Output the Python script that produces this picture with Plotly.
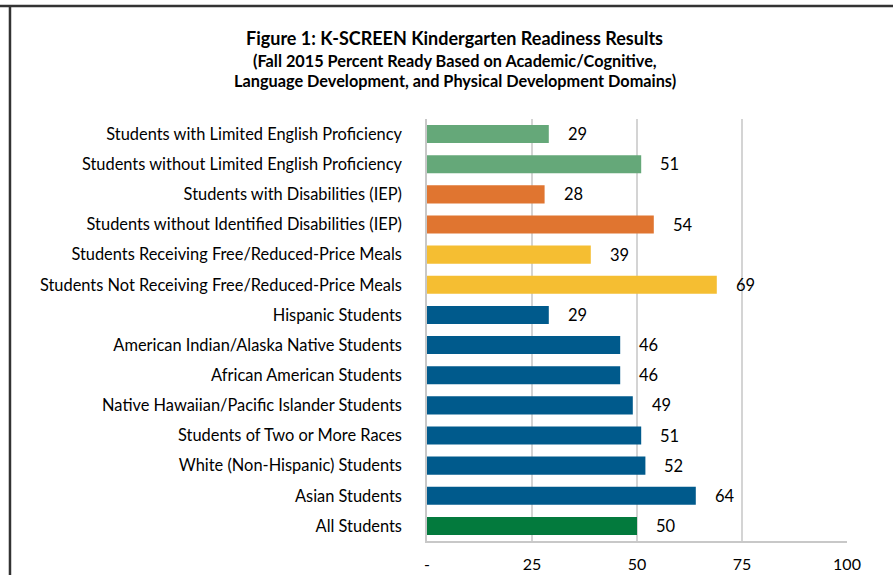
import plotly.graph_objects as go

categories = [
    "Students with Limited English Proficiency",
    "Students without Limited English Proficiency",
    "Students with Disabilities (IEP)",
    "Students without Identified Disabilities (IEP)",
    "Students Receiving Free/Reduced-Price Meals",
    "Students Not Receiving Free/Reduced-Price Meals",
    "Hispanic Students",
    "American Indian/Alaska Native Students",
    "African American Students",
    "Native Hawaiian/Pacific Islander Students",
    "Students of Two or More Races",
    "White (Non-Hispanic) Students",
    "Asian Students",
    "All Students",
]
values = [29, 51, 28, 54, 39, 69, 29, 46, 46, 49, 51, 52, 64, 50]
bar_colors = ["#65A879", "#65A879", "#E07530", "#E07530", "#F5BE32", "#F5BE32",
              "#005A8C", "#005A8C", "#005A8C", "#005A8C", "#005A8C", "#005A8C", "#005A8C",
              "#037A3D"]
tick_vals = [0, 25, 50, 75, 100]
tick_text = ["-", "25", "50", "75", "100"]
title_lines = [
    "Figure 1: K-SCREEN Kindergarten Readiness Results",
    "(Fall 2015 Percent Ready Based on Academic/Cognitive,",
    "Language Development, and Physical Development Domains)",
]

FONT = "Lato"

fig = go.Figure()
fig.add_trace(go.Bar(
    y=categories, x=values, orientation="h",
    marker=dict(color=bar_colors, line=dict(width=0)),
    width=0.6, hoverinfo="x+y",
))

for c, v in zip(categories, values):
    fig.add_annotation(x=v, y=c, text=str(v), showarrow=False, xanchor="left",
                       xshift=17, yshift=0, font=dict(family=FONT, size=16.5, color="#000"))

title_y = [1.1919, 1.1398, 1.0924]
title_sizes = [18, 16.3, 16.3]
for t, yy, sz in zip(title_lines, title_y, title_sizes):
    fig.add_annotation(xref="paper", yref="paper", x=0.066, y=yy, text="<b>" + t + "</b>",
                       showarrow=False, xanchor="center", yanchor="middle",
                       font=dict(family=FONT, size=sz, color="#000"))

fig.update_layout(
    width=893, height=575,
    margin=dict(l=427, r=46, t=119, b=34, autoexpand=False),
    paper_bgcolor="white", plot_bgcolor="white",
    showlegend=False,
    xaxis=dict(
        range=[0, 100], tickvals=tick_vals, ticktext=tick_text,
        showgrid=True, gridcolor="#D4D4D4", gridwidth=1.5,
        showline=True, linecolor="#C8C8C8", linewidth=1.5,
        zeroline=False, ticks="", ticklabelstandoff=8, automargin=False,
        tickfont=dict(family=FONT, size=16, color="#000"),
    ),
    yaxis=dict(
        categoryorder="array", categoryarray=categories[::-1],
        autorange=False, range=[-0.5, len(categories) - 0.5],
        showline=True, linecolor="#C8C8C8", linewidth=1.5,
        showgrid=False, ticks="", ticklabelstandoff=20, automargin=False,
        tickfont=dict(family=FONT, size=16.4, color="#000"),
    ),
    shapes=[
        dict(type="line", xref="paper", yref="paper",
             x0=-1.1, x1=2, y0=1.2678, y1=1.2678,
             line=dict(color="#333", width=2.5)),
        dict(type="line", xref="paper", yref="paper",
             x0=-0.9929, x1=-0.9929, y0=-0.2, y1=1.2678,
             line=dict(color="#333", width=2.5)),
    ],
)

fig.write_html("out.html", config={"displayModeBar": False},
               post_script="document.body.style.margin='0';document.body.style.overflow='hidden';")
